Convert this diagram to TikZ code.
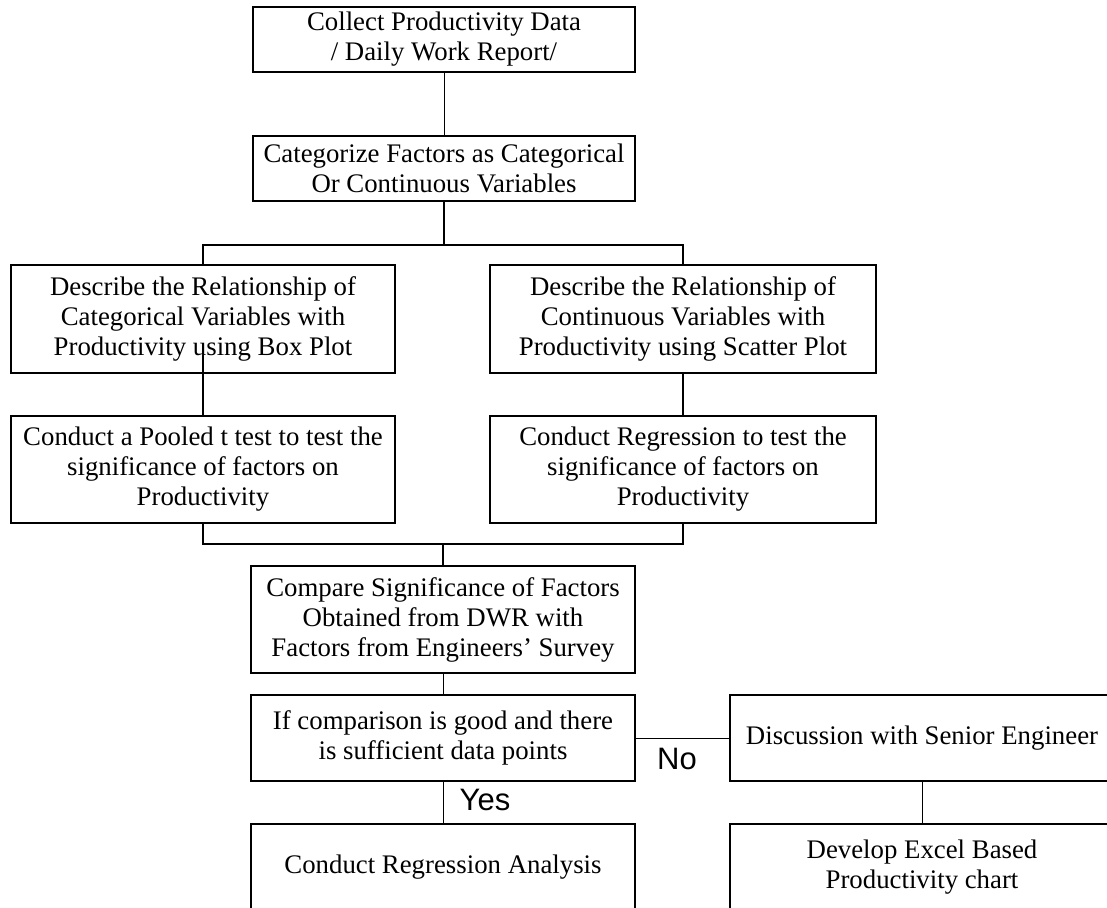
\documentclass[tikz,border=0pt]{standalone}
\usepackage{fontspec}
\setmainfont{Liberation Serif}
\newfontfamily\labelfont{Liberation Sans}
\usepackage{tikz}

\tikzset{
  stepbox/.style={draw,line width=1.5pt,align=center,inner sep=0pt,
    minimum width=384pt,font=\fontsize{26.8}{30}\selectfont},
  link/.style={line width=0.9pt},
  branch/.style={line width=1.5pt},
  answer/.style={font=\labelfont\fontsize{31}{31}\selectfont,inner sep=0pt}
}

\begin{document}
\begin{tikzpicture}[x=1pt,y=-1pt]
  \useasboundingbox (0,0) rectangle (1107,907);
  % boxes
  \node[stepbox,minimum width=382pt,minimum height=65pt] (collect) at (444,39.5)
    {Collect Productivity Data\\/ Daily Work Report/};
  \node[stepbox,minimum width=382pt,minimum height=65pt] (categorize) at (444,168.5)
    {Categorize Factors as Categorical\\Or Continuous Variables};
  \node[stepbox,minimum height=108pt] (descat) at (203,319)
    {Describe the Relationship of\\Categorical Variables with\\Productivity using Box Plot};
  \node[stepbox,minimum width=386pt,minimum height=108pt] (descont) at (683,319)
    {Describe the Relationship of\\Continuous Variables with\\Productivity using Scatter Plot};
  \node[stepbox,minimum height=107pt] (pooled) at (203,469.5)
    {Conduct a Pooled t test to test the\\significance of factors on\\Productivity};
  \node[stepbox,minimum width=386pt,minimum height=107pt] (regress) at (683,469.5)
    {Conduct Regression to test the\\significance of factors on\\Productivity};
  \node[stepbox,minimum height=107pt] (compare) at (443,619.5)
    {Compare Significance of Factors\\Obtained from DWR with\\Factors from Engineers' Survey};
  \node[stepbox,minimum height=86pt] (decide) at (443,738)
    {If comparison is good and there\\is sufficient data points};
  \node[stepbox,minimum height=86pt] (discuss) at (922,738)
    {Discussion with Senior Engineer};
  \node[stepbox,minimum height=86pt] (analysis) at (443,867)
    {Conduct Regression Analysis};
  \node[stepbox,minimum height=86pt] (excel) at (922,867)
    {Develop Excel Based\\Productivity chart};

  % connectors
  \coordinate (split) at ([yshift=-43pt]categorize.south);
  \coordinate (catstub) at (203,355);
  \coordinate (merge) at (443,544);
  \draw[link] (collect) -- (categorize);
  \draw[branch] (categorize.south) -- (split);
  \draw[branch] (descat.north) |- (split) -| (descont.north);
  \draw[branch] (catstub) -- (pooled.north);
  \draw[branch] (descont.south) -- (regress.north);
  \draw[branch] (pooled.south) |- (merge) -| (regress.south);
  \draw[branch] (merge) -- (compare.north);
  \draw[link] (compare) -- (decide);
  \draw[link] (decide) -- (analysis);
  \draw[link] (decide) -- (discuss);
  \draw[link] (discuss) -- (excel);

  \node[answer] (yes) at (485,800) {Yes};
  \node[answer] (no) at (677,759) {No};
\end{tikzpicture}
\end{document}
